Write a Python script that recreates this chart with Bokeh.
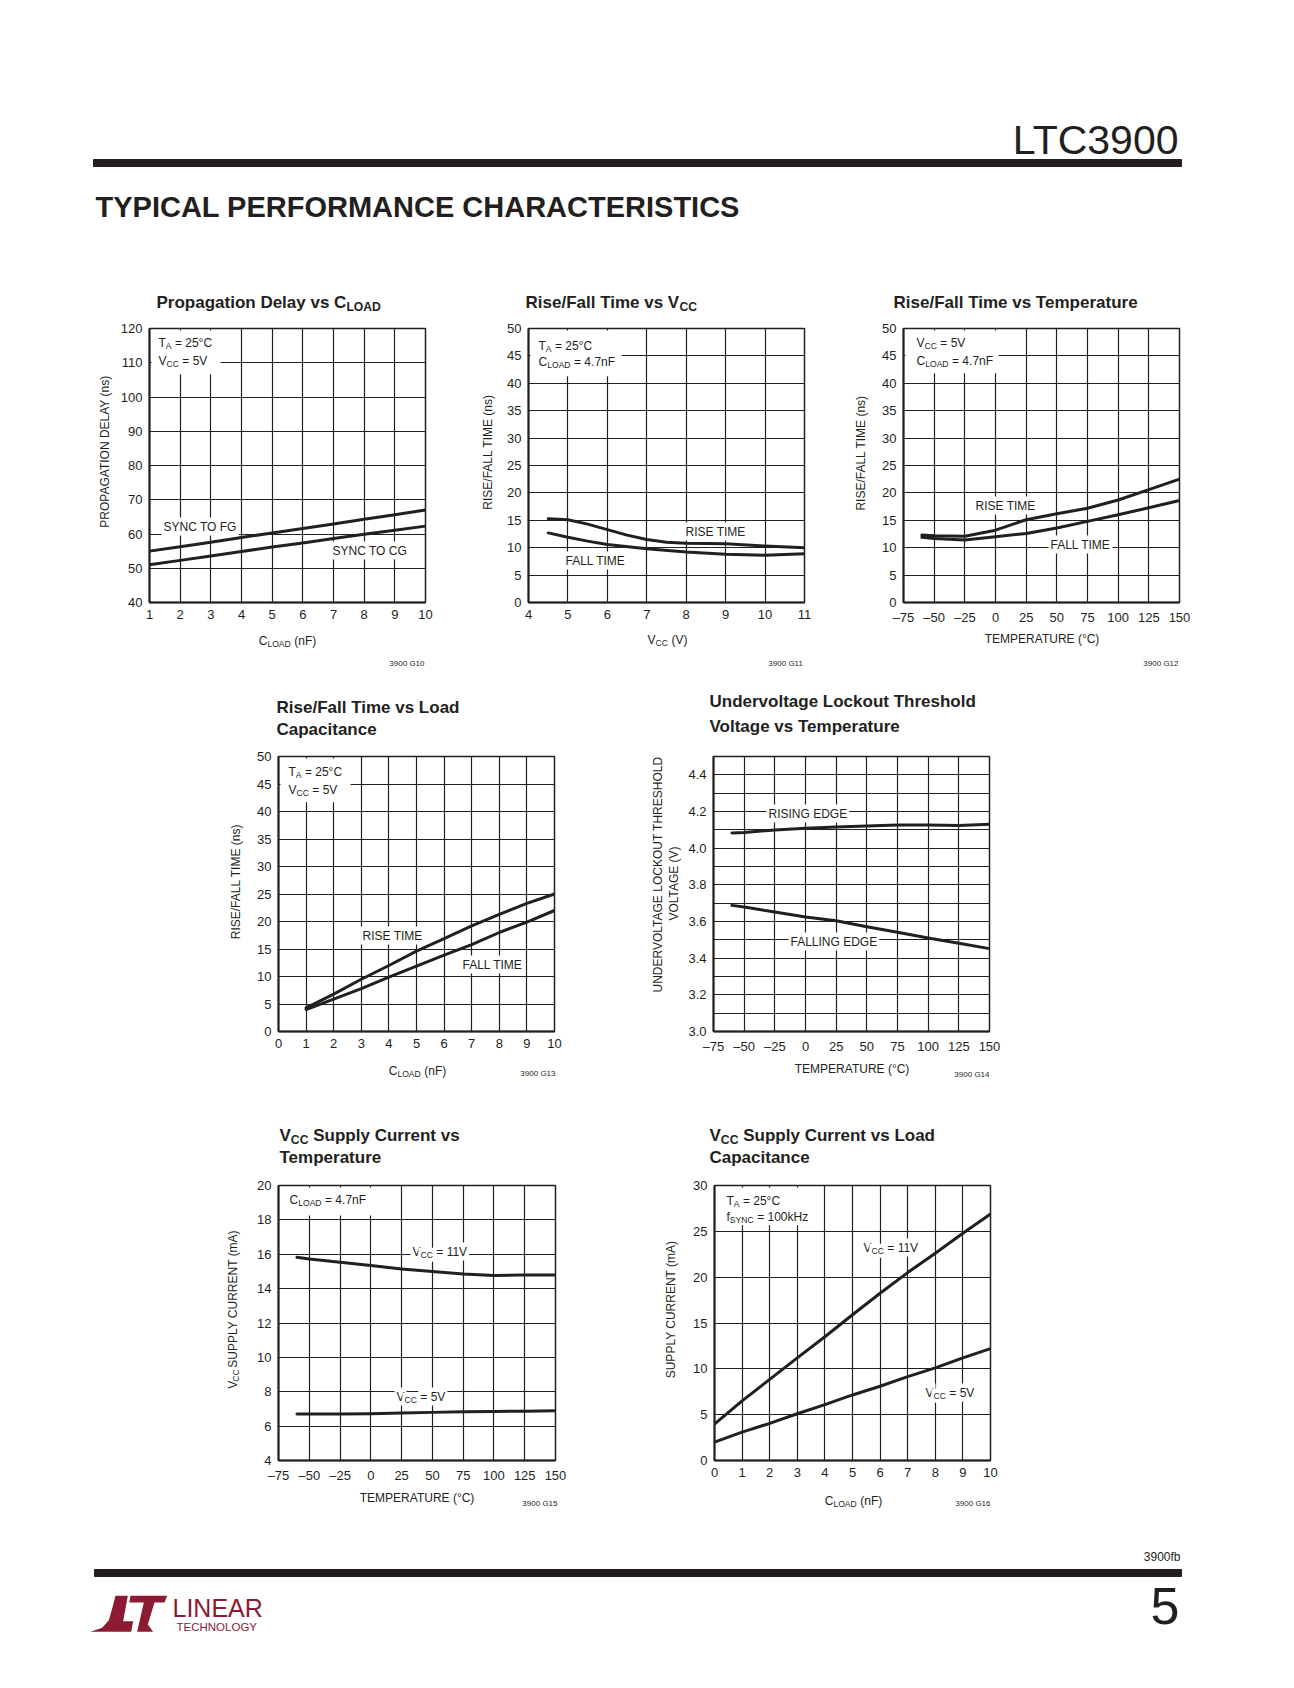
import math
from bokeh.plotting import figure
from bokeh.models import Range1d, FixedTicker, Label, BoxAnnotation, PrintfTickFormatter
from bokeh.layouts import column, row
from bokeh.embed import file_html
from bokeh.resources import INLINE

INK = "#231f20"
LOGO = "#8c1a33"
SANS = "Liberation Sans"

# ---------------- data ----------------
# G10 Propagation delay vs CLOAD
pd_cload = [1, 2, 3, 4, 5, 6, 7, 8, 9, 10]
pd_sync_fg = [55.0, 56.3, 57.6, 59.0, 60.3, 61.6, 62.9, 64.3, 65.6, 67.0]
pd_sync_cg = [51.0, 52.3, 53.6, 54.9, 56.2, 57.4, 58.7, 59.9, 61.1, 62.3]
pd_xticks = [1, 2, 3, 4, 5, 6, 7, 8, 9, 10]
pd_yticks = [40, 50, 60, 70, 80, 90, 100, 110, 120]

# G11 Rise/Fall time vs VCC
vcc_rise_x = [4.5, 5.0, 5.5, 6.0, 6.5, 7.0, 7.5, 8.0, 9.0, 10.0, 11.0]
vcc_rise_y = [15.3, 15.1, 14.3, 13.3, 12.3, 11.5, 11.0, 10.8, 10.7, 10.3, 10.0]
vcc_fall_x = [4.5, 5.0, 5.5, 6.0, 7.0, 8.0, 9.0, 10.0, 11.0]
vcc_fall_y = [12.7, 11.9, 11.2, 10.6, 9.8, 9.2, 8.8, 8.6, 8.9]
vcc_xticks = [4, 5, 6, 7, 8, 9, 10, 11]
rf_yticks = [0, 5, 10, 15, 20, 25, 30, 35, 40, 45, 50]

# G12 Rise/Fall time vs temperature
rft_temp = [-60, -50, -25, 0, 25, 50, 75, 100, 125, 150]
rft_rise = [12.3, 12.2, 12.1, 13.2, 15.1, 16.2, 17.2, 18.7, 20.6, 22.5]
rft_fall = [11.9, 11.7, 11.4, 12.0, 12.6, 13.6, 14.8, 16.0, 17.3, 18.6]
temp_xticks = [-75, -50, -25, 0, 25, 50, 75, 100, 125, 150]
temp_neg_labels = {-75: "\u201375", -50: "\u201350", -25: "\u201325"}

# G13 Rise/Fall time vs load capacitance
rfc_cload = [1, 2, 3, 4, 5, 6, 7, 8, 9, 10]
rfc_rise = [4.3, 6.8, 9.5, 12.0, 14.6, 16.9, 19.2, 21.3, 23.3, 25.0]
rfc_fall = [4.0, 5.9, 7.8, 9.9, 11.9, 13.9, 15.8, 18.0, 19.9, 22.0]
cl_xticks = [0, 1, 2, 3, 4, 5, 6, 7, 8, 9, 10]

# G14 UVLO threshold vs temperature
uv_temp = [-60, -50, -25, 0, 25, 50, 75, 100, 125, 150]
uv_rising = [4.083, 4.086, 4.099, 4.108, 4.115, 4.121, 4.126, 4.126, 4.124, 4.130]
uv_falling = [3.688, 3.679, 3.652, 3.625, 3.604, 3.571, 3.541, 3.510, 3.481, 3.452]
uv_yticks = [3.0, 3.2, 3.4, 3.6, 3.8, 4.0, 4.2, 4.4]
uv_ygrid = [3.0, 3.1, 3.2, 3.3, 3.4, 3.5, 3.6, 3.7, 3.8, 3.9, 4.0, 4.1, 4.2, 4.3, 4.4, 4.5]

# G15 VCC supply current vs temperature
ict_temp = [-60, -50, -25, 0, 25, 50, 75, 100, 125, 150]
ict_11v = [15.82, 15.72, 15.53, 15.34, 15.14, 14.99, 14.85, 14.76, 14.80, 14.80]
ict_5v = [6.70, 6.70, 6.70, 6.72, 6.76, 6.80, 6.83, 6.85, 6.87, 6.89]
ict_yticks = [4, 6, 8, 10, 12, 14, 16, 18, 20]

# G16 VCC supply current vs load capacitance
icl_cload = [0, 1, 2, 3, 4, 5, 6, 7, 8, 9, 10]
icl_11v = [3.98, 6.5, 8.85, 11.2, 13.5, 15.9, 18.25, 20.5, 22.6, 24.8, 26.9]
icl_5v = [2.0, 3.1, 4.05, 5.1, 6.1, 7.15, 8.1, 9.15, 10.1, 11.2, 12.2]
icl_yticks = [0, 5, 10, 15, 20, 25, 30]

# ---------------- text metrics (Liberation Sans = Arial metrics) ----------------
W_REG = {' ': 278, '(': 333, ')': 333, '-': 333, '.': 278, '/': 278, '=': 584, '\u00b0': 400, '\u2013': 556,
         'A': 667, 'B': 667, 'C': 722, 'D': 722, 'E': 667, 'F': 611, 'G': 778, 'H': 722, 'I': 278,
         'J': 500, 'K': 667, 'L': 556, 'M': 833, 'N': 722, 'O': 778, 'P': 667, 'Q': 778, 'R': 722,
         'S': 667, 'T': 611, 'U': 722, 'V': 667, 'W': 944, 'X': 667, 'Y': 667, 'Z': 611,
         'a': 556, 'b': 556, 'c': 500, 'd': 556, 'e': 556, 'f': 278, 'g': 556, 'h': 556, 'i': 222,
         'j': 222, 'k': 500, 'l': 222, 'm': 833, 'n': 556, 'o': 556, 'p': 556, 'q': 556, 'r': 333,
         's': 500, 't': 278, 'u': 556, 'v': 500, 'w': 722, 'x': 500, 'y': 500, 'z': 500}
W_BOLD = {' ': 278, '/': 278, '(': 333, ')': 333, '=': 584,
          'A': 722, 'B': 722, 'C': 722, 'D': 722, 'E': 667, 'F': 611, 'G': 778, 'H': 722, 'I': 278,
          'K': 722, 'L': 611, 'M': 833, 'N': 722, 'O': 778, 'P': 667, 'R': 722, 'S': 667, 'T': 611,
          'U': 722, 'V': 667, 'W': 944, 'Y': 667,
          'a': 556, 'b': 611, 'c': 556, 'd': 611, 'e': 556, 'f': 333, 'g': 611, 'h': 611, 'i': 278,
          'k': 556, 'l': 278, 'm': 889, 'n': 611, 'o': 611, 'p': 611, 'r': 389, 's': 556, 't': 333,
          'u': 611, 'v': 556, 'w': 778, 'y': 556}


def text_width(s, size, bold=False):
    table = W_BOLD if bold else W_REG
    return sum(table.get(ch, 556) for ch in s) * size / 1000.0


def chart_anchor(p, frame):
    fl, ft, fr, fb = frame
    xs, ys = p.x_range.start, p.y_range.start

    def f(X, Y):
        return dict(x=xs, y=ys, x_offset=X - fl, y_offset=fb - Y)
    return f


def page_anchor(X, Y):
    return dict(x=X, y=Y, x_offset=0, y_offset=0)


def rich(p, anchor, X, Y, parts, size, bold=False, align="left", bg=False,
         vertical=False, color=INK, font=SANS):
    """parts: list of (text, is_sub); (X, Y) = reference position, Y = cap centre line."""
    sub_size = size * 0.72
    drop = size * 0.28
    widths = [text_width(t, sub_size if s else size, bold) for t, s in parts]
    total = sum(widths)
    style = "bold" if bold else "normal"
    if vertical:
        pos = Y + total / 2
    else:
        pos = X if align == "left" else (X - total / 2 if align == "center" else X - total)
    for (t, s), w in zip(parts, widths):
        sz = sub_size if s else size
        lead = text_width(" " * (len(t) - len(t.lstrip(" "))), sz, bold)
        txt = t.strip(" ")
        kw = dict(text=txt, text_font=font, text_font_size=f"{sz:.1f}px", text_font_style=style,
                  text_color=color, text_align="left", text_baseline="middle")
        if vertical:
            lab = Label(angle=math.pi / 2, **kw, **anchor(X + (drop if s else 0), pos - lead))
            pos -= w
        else:
            lab = Label(**kw, **anchor(pos + lead, Y + (drop if s else 0)))
            pos += w
        if bg:
            lab.background_fill_color = "white"
            lab.padding = 2
        p.add_layout(lab)


def canvas(x0, y0, w, h):
    p = figure(width=w, height=h, x_range=Range1d(x0, x0 + w), y_range=Range1d(y0 + h, y0),
               min_border=0, toolbar_location=None, tools="", output_backend="svg",
               x_axis_location=None, y_axis_location=None)
    p.grid.visible = False
    p.outline_line_color = None
    p.background_fill_color = "white"
    p.border_fill_color = "white"
    return p


def make_chart(left, top, w, h, frame, xr, yr, xticks, yticks, overrides=None, ygrid_ticks=None):
    fl, ft, fr, fb = frame
    p = figure(width=w, height=h, x_range=Range1d(*xr), y_range=Range1d(*yr),
               min_border_left=fl - left, min_border_right=left + w - fr,
               min_border_top=ft - top, min_border_bottom=top + h - fb,
               toolbar_location=None, tools="", output_backend="svg")
    p.xaxis.ticker = FixedTicker(ticks=xticks)
    p.yaxis.ticker = FixedTicker(ticks=yticks)
    if overrides:
        p.xaxis.major_label_overrides = overrides
    if ygrid_ticks:
        p.ygrid.ticker = FixedTicker(ticks=ygrid_ticks)
    for ax in p.axis:
        ax.major_tick_in = 0
        ax.major_tick_out = 0
        ax.minor_tick_in = 0
        ax.minor_tick_out = 0
        ax.axis_line_width = 2
        ax.axis_line_color = INK
        ax.major_label_text_font = SANS
        ax.major_label_text_font_size = "13px"
        ax.major_label_text_color = INK
        ax.major_label_standoff = 7
    p.grid.grid_line_color = INK
    p.grid.grid_line_width = 1.2
    p.grid.grid_line_alpha = 1.0
    p.outline_line_color = INK
    p.outline_line_width = 1.5
    p.outline_line_alpha = 1.0
    p.background_fill_color = "white"
    p.border_fill_color = "white"
    return p


def white_box(p, frame, R, B):
    fl, ft, fr, fb = frame
    xs, xe = p.x_range.start, p.x_range.end
    ys, ye = p.y_range.start, p.y_range.end
    fx = lambda X: xs + (X - fl) / (fr - fl) * (xe - xs)
    fy = lambda Y: ys + (fb - Y) / (fb - ft) * (ye - ys)
    p.add_layout(BoxAnnotation(left=fx(fl + 2), right=fx(R), top=fy(ft + 2), bottom=fy(B),
                               fill_color="white", fill_alpha=1.0, line_color=None))


def curve(p, x, y):
    p.line(x, y, line_width=3, line_color=INK, line_join="round", line_cap="round")


TS = 17     # chart title size (bold)
AS = 12     # annotation / axis label size
CS = 8      # figure code size

# ---------------- band geometry (page px) ----------------
R1_TOP, R1_H = 318, 310
R2_TOP, R2_H = 746, 310
R3_TOP, R3_H = 1175, 310

# ---------------- charts ----------------
F1 = (149, 328, 425, 603)
p1 = make_chart(117, R1_TOP, 323, R1_H, F1, (1, 10), (40, 120), pd_xticks, pd_yticks)
curve(p1, pd_cload, pd_sync_fg)
curve(p1, pd_cload, pd_sync_cg)
white_box(p1, F1, 220, 374)
a1 = chart_anchor(p1, F1)
rich(p1, a1, 158, 343, [("T", 0), ("A", 1), (" = 25\u00b0C", 0)], AS)
rich(p1, a1, 158, 361, [("V", 0), ("CC", 1), (" = 5V", 0)], AS)
rich(p1, a1, 161, 527, [("SYNC TO FG", 0)], AS, bg=True)
rich(p1, a1, 330, 551, [("SYNC TO CG", 0)], AS, bg=True)

F2 = (528, 327, 804, 602)
p2 = make_chart(496, R1_TOP, 324, R1_H, F2, (4, 11), (0, 50), vcc_xticks, rf_yticks)
curve(p2, vcc_rise_x, vcc_rise_y)
curve(p2, vcc_fall_x, vcc_fall_y)
white_box(p2, F2, 621, 375)
a2 = chart_anchor(p2, F2)
rich(p2, a2, 538, 345, [("T", 0), ("A", 1), (" = 25\u00b0C", 0)], AS)
rich(p2, a2, 538, 361, [("C", 0), ("LOAD", 1), (" = 4.7nF", 0)], AS)
rich(p2, a2, 683, 531, [("RISE TIME", 0)], AS, bg=True)
rich(p2, a2, 563, 560, [("FALL TIME", 0)], AS, bg=True)

F3 = (903, 328, 1179, 603)
p3 = make_chart(871, R1_TOP, 423, R1_H, F3, (-75, 150), (0, 50), temp_xticks, rf_yticks, temp_neg_labels)
curve(p3, rft_temp, rft_rise)
curve(p3, rft_temp, rft_fall)
white_box(p3, F3, 998, 373)
a3 = chart_anchor(p3, F3)
rich(p3, a3, 916, 343, [("V", 0), ("CC", 1), (" = 5V", 0)], AS)
rich(p3, a3, 916, 361, [("C", 0), ("LOAD", 1), (" = 4.7nF", 0)], AS)
rich(p3, a3, 973, 506, [("RISE TIME", 0)], AS, bg=True)
rich(p3, a3, 1048, 545, [("FALL TIME", 0)], AS, bg=True)

F4 = (278, 756, 554, 1032)
p4 = make_chart(246, R2_TOP, 354, R2_H, F4, (0, 10), (0, 50), cl_xticks, rf_yticks)
curve(p4, rfc_cload, rfc_rise)
curve(p4, rfc_cload, rfc_fall)
white_box(p4, F4, 350, 802)
a4 = chart_anchor(p4, F4)
rich(p4, a4, 288, 772, [("T", 0), ("A", 1), (" = 25\u00b0C", 0)], AS)
rich(p4, a4, 288, 790, [("V", 0), ("CC", 1), (" = 5V", 0)], AS)
rich(p4, a4, 360, 936, [("RISE TIME", 0)], AS, bg=True)
rich(p4, a4, 460, 965, [("FALL TIME", 0)], AS, bg=True)

F5 = (713, 756, 989, 1032)
p5 = make_chart(681, R2_TOP, 613, R2_H, F5, (-75, 150), (3.0, 4.5), temp_xticks, uv_yticks,
                temp_neg_labels, uv_ygrid)
p5.yaxis.formatter = PrintfTickFormatter(format="%.1f")
curve(p5, uv_temp, uv_rising)
curve(p5, uv_temp, uv_falling)
a5 = chart_anchor(p5, F5)
rich(p5, a5, 766, 814, [("RISING EDGE", 0)], AS, bg=True)
rich(p5, a5, 788, 942, [("FALLING EDGE", 0)], AS, bg=True)

F6 = (278, 1185, 555, 1461)
p6 = make_chart(246, R3_TOP, 354, R3_H, F6, (-75, 150), (4, 20), temp_xticks, ict_yticks, temp_neg_labels)
curve(p6, ict_temp, ict_11v)
curve(p6, ict_temp, ict_5v)
white_box(p6, F6, 373, 1215)
a6 = chart_anchor(p6, F6)
rich(p6, a6, 289, 1200, [("C", 0), ("LOAD", 1), (" = 4.7nF", 0)], AS)
rich(p6, a6, 410, 1252, [("V", 0), ("CC", 1), (" = 11V", 0)], AS, bg=True)
rich(p6, a6, 394, 1397, [("V", 0), ("CC", 1), (" = 5V", 0)], AS, bg=True)

F7 = (714, 1185, 990, 1461)
p7 = make_chart(682, R3_TOP, 612, R3_H, F7, (0, 10), (0, 30), cl_xticks, icl_yticks)
curve(p7, icl_cload, icl_11v)
curve(p7, icl_cload, icl_5v)
white_box(p7, F7, 817, 1225)
a7 = chart_anchor(p7, F7)
rich(p7, a7, 726, 1201, [("T", 0), ("A", 1), (" = 25\u00b0C", 0)], AS)
rich(p7, a7, 726, 1217, [("f", 0), ("SYNC", 1), (" = 100kHz", 0)], AS)
rich(p7, a7, 861, 1248, [("V", 0), ("CC", 1), (" = 11V", 0)], AS, bg=True)
rich(p7, a7, 923, 1393, [("V", 0), ("CC", 1), (" = 5V", 0)], AS, bg=True)

# ---------------- y-axis label canvases ----------------
y1 = canvas(0, R1_TOP, 117, R1_H)
rich(y1, page_anchor, 104, 466, [("PROPAGATION DELAY (ns)", 0)], AS, vertical=True)
y2 = canvas(440, R1_TOP, 56, R1_H)
rich(y2, page_anchor, 487, 465, [("RISE/FALL TIME (ns)", 0)], AS, vertical=True)
y3 = canvas(820, R1_TOP, 51, R1_H)
rich(y3, page_anchor, 860, 466, [("RISE/FALL TIME (ns)", 0)], AS, vertical=True)
y4 = canvas(0, R2_TOP, 246, R2_H)
rich(y4, page_anchor, 235, 894, [("RISE/FALL TIME (ns)", 0)], AS, vertical=True)
y5 = canvas(600, R2_TOP, 81, R2_H)
rich(y5, page_anchor, 657, 893, [("UNDERVOLTAGE LOCKOUT THRESHOLD", 0)], AS, vertical=True)
rich(y5, page_anchor, 673, 893, [("VOLTAGE (V)", 0)], AS, vertical=True)
y6 = canvas(0, R3_TOP, 246, R3_H)
rich(y6, page_anchor, 232, 1323, [("V", 0), ("CC", 1), (" SUPPLY CURRENT (mA)", 0)], AS, vertical=True)
y7 = canvas(600, R3_TOP, 82, R3_H)
rich(y7, page_anchor, 670, 1323, [("SUPPLY CURRENT (mA)", 0)], AS, vertical=True)

# ---------------- header ----------------
hd = canvas(0, 0, 1294, R1_TOP)
hd.quad(left=[93], right=[1181], top=[159], bottom=[166], color=INK)
rich(hd, page_anchor, 1181, 139, [("LTC3900", 0)], 41, align="right")
rich(hd, page_anchor, 95, 206.5, [("TYPICAL PERFORMANCE CHARACTERISTICS", 0)], 29, bold=True)
rich(hd, page_anchor, 156, 302, [("Propagation Delay vs C", 0), ("LOAD", 1)], TS, bold=True)
rich(hd, page_anchor, 525, 302, [("Rise/Fall Time vs V", 0), ("CC", 1)], TS, bold=True)
rich(hd, page_anchor, 893, 302, [("Rise/Fall Time vs Temperature", 0)], TS, bold=True)

# ---------------- strip between row 1 and row 2 ----------------
s1_top = R1_TOP + R1_H
s1 = canvas(0, s1_top, 1294, R2_TOP - s1_top)
rich(s1, page_anchor, 287, 640, [("C", 0), ("LOAD", 1), (" (nF)", 0)], AS, align="center")
rich(s1, page_anchor, 667, 639, [("V", 0), ("CC", 1), (" (V)", 0)], AS, align="center")
rich(s1, page_anchor, 1042, 638, [("TEMPERATURE (\u00b0C)", 0)], AS, align="center")
rich(s1, page_anchor, 424, 663, [("3900 G10", 0)], CS, align="right")
rich(s1, page_anchor, 803, 663, [("3900 G11", 0)], CS, align="right")
rich(s1, page_anchor, 1178, 663, [("3900 G12", 0)], CS, align="right")
rich(s1, page_anchor, 276, 707, [("Rise/Fall Time vs Load", 0)], TS, bold=True)
rich(s1, page_anchor, 276, 729, [("Capacitance", 0)], TS, bold=True)
rich(s1, page_anchor, 709, 701, [("Undervoltage Lockout Threshold", 0)], TS, bold=True)
rich(s1, page_anchor, 709, 726, [("Voltage vs Temperature", 0)], TS, bold=True)

# ---------------- strip between row 2 and row 3 ----------------
s2_top = R2_TOP + R2_H
s2 = canvas(0, s2_top, 1294, R3_TOP - s2_top)
rich(s2, page_anchor, 417, 1070, [("C", 0), ("LOAD", 1), (" (nF)", 0)], AS, align="center")
rich(s2, page_anchor, 852, 1068, [("TEMPERATURE (\u00b0C)", 0)], AS, align="center")
rich(s2, page_anchor, 555, 1073, [("3900 G13", 0)], CS, align="right")
rich(s2, page_anchor, 989, 1074, [("3900 G14", 0)], CS, align="right")
rich(s2, page_anchor, 279, 1135, [("V", 0), ("CC", 1), (" Supply Current vs", 0)], TS, bold=True)
rich(s2, page_anchor, 279, 1157, [("Temperature", 0)], TS, bold=True)
rich(s2, page_anchor, 709, 1135, [("V", 0), ("CC", 1), (" Supply Current vs Load", 0)], TS, bold=True)
rich(s2, page_anchor, 709, 1157, [("Capacitance", 0)], TS, bold=True)

# ---------------- strip below row 3 ----------------
s3_top = R3_TOP + R3_H
FT = 1510
s3 = canvas(0, s3_top, 1294, FT - s3_top)
rich(s3, page_anchor, 417, 1497, [("TEMPERATURE (\u00b0C)", 0)], AS, align="center")
rich(s3, page_anchor, 853, 1500, [("C", 0), ("LOAD", 1), (" (nF)", 0)], AS, align="center")
rich(s3, page_anchor, 557, 1503, [("3900 G15", 0)], CS, align="right")
rich(s3, page_anchor, 990, 1503, [("3900 G16", 0)], CS, align="right")

# ---------------- footer ----------------
ft = canvas(0, FT, 1294, 1686 - FT)
ft.quad(left=[94], right=[1181], top=[1569], bottom=[1576], color=INK)
rich(ft, page_anchor, 1180, 1556, [("3900fb", 0)], 12, align="right")
rich(ft, page_anchor, 1179, 1605.5, [("5", 0)], 52, align="right")
logo_L = [(75, 22), (112, 22), (98, 98), (128, 98), (122, 130), (0, 130), (35, 118), (55, 95), (65, 60)]
logo_T = [(120, 22), (230, 22), (222, 42), (192, 42), (172, 108), (188, 130), (140, 130), (160, 42), (116, 42)]
for shape in (logo_L, logo_T):
    ft.patch([90 + zx / 3 for zx, zy in shape], [1588 + zy / 3 for zx, zy in shape],
             color=LOGO, line_width=0)
rich(ft, page_anchor, 172, 1607.5, [("LINEAR", 0)], 25, color=LOGO)
rich(ft, page_anchor, 176, 1626, [("TECHNOLOGY", 0)], 11.5, color=LOGO)

layout = column(
    hd,
    row(y1, p1, y2, p2, y3, p3),
    s1,
    row(y4, p4, y5, p5),
    s2,
    row(y6, p6, y7, p7),
    s3,
    ft,
)
open("out.html", "w").write(file_html(layout, INLINE))
